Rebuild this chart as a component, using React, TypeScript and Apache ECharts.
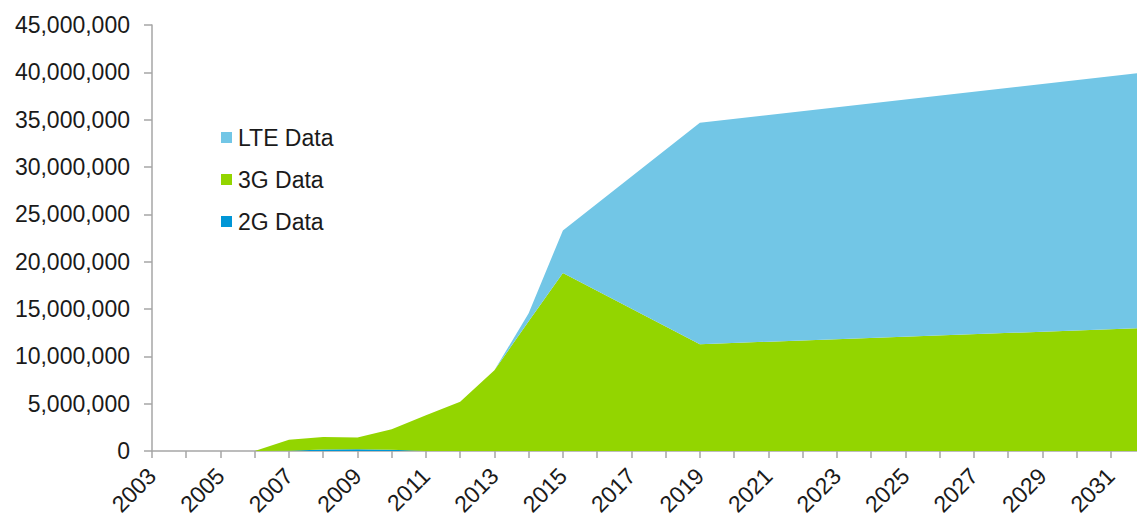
import React, { useEffect, useRef } from "react";
import * as echarts from "echarts";

// Years that carry a data point
const years = [2006, 2007, 2008, 2009, 2010, 2011, 2012, 2013, 2014, 2015, 2019, 2032];
const data2G = [0, 20000, 150000, 180000, 120000, 0, 0, 0, 0, 0, 0, 0];
const data3G = [0, 1180000, 1330000, 1240000, 2180000, 3770000, 5200000, 8530000, 13700000, 18800000, 11280000, 13000000];
const dataLTE = [0, 0, 0, 0, 0, 0, 0, 0, 850000, 4500000, 23400000, 27000000];
const legendNames = ["LTE Data", "3G Data", "2G Data"];
const axisYears = { min: 2003, max: 2032 };

const FONT = "'Liberation Sans', Arial, sans-serif";
const AXIS_COLOR = "#a6a6a6";

export default function App() {
  const ref = useRef<HTMLDivElement>(null);
  useEffect(() => {
    if (!ref.current) return;
    const chart = echarts.init(ref.current, undefined, { renderer: "svg" });
    // value first so that the stack is computed on the y dimension
    const pairs = (vals: number[]) => years.map((y, i) => [vals[i], y]);
    const area = (name: string, vals: number[], color: string) => ({
      name,
      type: "line",
      stack: "total",
      data: pairs(vals),
      encode: { x: 1, y: 0 },
      showSymbol: false,
      symbol: "none",
      lineStyle: { width: 0 },
      areaStyle: { color, opacity: 1 },
      itemStyle: { color },
      emphasis: { disabled: true },
    });
    chart.setOption({
      animation: false,
      textStyle: { fontFamily: FONT },
      grid: { left: 152, right: -8, top: 25, bottom: 67, outerBoundsMode: "none", containLabel: false },
      legend: {
        data: legendNames,
        orient: "vertical",
        left: 216,
        top: 121,
        itemWidth: 11,
        itemHeight: 11,
        itemGap: 19,
        icon: "rect",
        textStyle: { fontSize: 23, color: "#1a1a1a", fontFamily: FONT, padding: [0, 0, 0, 1] },
      },
      xAxis: {
        type: "value",
        min: axisYears.min,
        max: axisYears.max,
        interval: 1,
        splitLine: { show: false },
        axisLine: { show: true, lineStyle: { color: AXIS_COLOR, width: 1.5 } },
        axisTick: { show: true, length: 7, lineStyle: { color: AXIS_COLOR, width: 1.5 } },
        axisLabel: {
          rotate: 45,
          margin: 21,
          fontSize: 23,
          color: "#1a1a1a",
          fontFamily: FONT,
          showMinLabel: true,
          showMaxLabel: true,
          formatter: (v: number) => (Math.round(v) % 2 === 1 ? String(Math.round(v)) : ""),
        },
      },
      yAxis: {
        type: "value",
        min: 0,
        max: 45000000,
        interval: 5000000,
        splitLine: { show: false },
        axisLine: { show: true, lineStyle: { color: AXIS_COLOR, width: 1.5 } },
        axisTick: { show: true, length: 8, lineStyle: { color: AXIS_COLOR, width: 1.5 } },
        axisLabel: {
          margin: 22,
          fontSize: 23,
          color: "#1a1a1a",
          fontFamily: FONT,
          formatter: (v: number) => v.toLocaleString("en-US"),
        },
      },
      series: [
        area("2G Data", data2G, "#0096d6"),
        area("3G Data", data3G, "#93d500"),
        area("LTE Data", dataLTE, "#72c6e6"),
      ],
    });
    return () => chart.dispose();
  }, []);
  return (
    <div
      ref={ref}
      style={{ position: "fixed", left: 0, top: 0, width: 1137, height: 518, background: "#fff" }}
    />
  );
}
